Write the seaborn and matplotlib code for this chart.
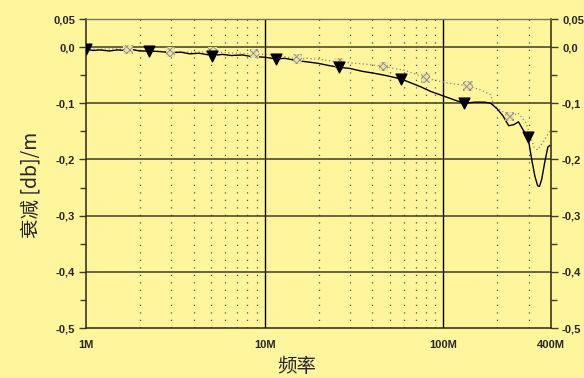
import numpy as np
import pandas as pd
import seaborn as sns
import matplotlib.pyplot as plt
from matplotlib.ticker import FixedLocator, NullFormatter

# solid curve (MHz, dB/m)
solid_f = [1.0, 1.1, 1.2, 1.35, 1.5, 1.65, 1.8, 2.0, 2.25, 2.6, 3.0, 3.4, 3.8, 4.3,
           5.1, 5.8, 6.5, 7.5, 8.5, 10, 11.5, 13, 15, 17, 20, 23, 26, 30, 35, 40,
           45, 50, 58, 65, 75, 85, 100, 115, 131, 150, 170, 184, 200, 215, 232,
           248, 263, 280, 297, 312, 325, 337, 345, 355, 369, 384, 394]
solid_v = [-0.004, -0.006, -0.005, -0.007, -0.005, -0.006, -0.004, -0.007, -0.007,
           -0.008, -0.010, -0.009, -0.012, -0.011, -0.015, -0.013, -0.015, -0.014,
           -0.017, -0.018, -0.021, -0.020, -0.024, -0.026, -0.029, -0.033, -0.036,
           -0.038, -0.043, -0.046, -0.049, -0.052, -0.057, -0.063, -0.071, -0.079,
           -0.087, -0.094, -0.100, -0.098, -0.098, -0.100, -0.110, -0.122, -0.140,
           -0.138, -0.133, -0.148, -0.160, -0.200, -0.230, -0.247, -0.248, -0.235,
           -0.205, -0.178, -0.175]
tri_f = [1.0, 2.25, 5.1, 11.5, 26, 58, 131, 297]
tri_v = [-0.004, -0.007, -0.015, -0.021, -0.036, -0.057, -0.100, -0.160]

# dotted curve
dot_f = [1.0, 1.2, 1.45, 1.72, 2.0, 2.4, 2.96, 3.5, 4.2, 5.09, 6.0, 7.2, 8.76,
         10.3, 12.3, 15.2, 17.5, 20.5, 26.2, 30, 36, 46.1, 51, 60, 70, 79.5, 92,
         107, 137, 161, 184, 191, 235, 245, 261, 290, 321, 337, 373, 398]
dot_v = [-0.003, -0.004, -0.003, -0.004, -0.006, -0.007, -0.009, -0.009, -0.009,
         -0.008, -0.010, -0.011, -0.012, -0.013, -0.016, -0.021, -0.020, -0.022,
         -0.027, -0.028, -0.030, -0.034, -0.037, -0.041, -0.048, -0.055, -0.060,
         -0.064, -0.069, -0.076, -0.085, -0.103, -0.124, -0.122, -0.117, -0.135,
         -0.178, -0.183, -0.162, -0.147]
hat_f = [1.72, 2.96, 5.09, 8.76, 15.2, 26.2, 46.1, 79.5, 137, 235]
hat_v = [-0.004, -0.009, -0.008, -0.012, -0.021, -0.027, -0.034, -0.055, -0.069, -0.124]

xtick_vals = [1, 10, 100, 400]
xtick_labels = ['1M', '10M', '100M', '400M']
ytick_vals = [0.05, 0.0, -0.1, -0.2, -0.3, -0.4, -0.5]
ytick_labels = ['0,05', '0,0', '-0,1', '-0,2', '-0,3', '-0,4', '-0,5']

bg = '#fff59c'
sns.set_theme(style='white')
plt.rcParams['font.family'] = ['Liberation Sans', 'DejaVu Sans']
plt.rcParams['hatch.linewidth'] = 0.6

fig = plt.figure(figsize=(5.84, 3.78), dpi=100, facecolor=bg)
ax = fig.add_axes([86 / 584, 50 / 378, 465 / 584, 309 / 378])
ax.set_facecolor(bg)
ax.set_xscale('log')
ax.set_xlim(1, 400)
ax.set_ylim(-0.5, 0.05)

# grid
for f in [2, 3, 4, 5, 6, 7, 8, 9, 20, 30, 40, 50, 60, 70, 80, 90, 200, 300]:
    ax.axvline(f, color='#555040', lw=0.9, ls=(0, (1, 5)), zorder=1)
for f in [10, 100]:
    ax.axvline(f, color='black', lw=1.0, zorder=1)
for v in [0.0, -0.1, -0.2, -0.3, -0.4]:
    ax.axhline(v, color='#3e3b28', lw=1.1, zorder=1)

df_s = pd.DataFrame({'f': solid_f, 'v': solid_v})
df_d = pd.DataFrame({'f': dot_f, 'v': dot_v})
sns.lineplot(data=df_d, x='f', y='v', ax=ax, color='#8a856f', lw=0.9,
             linestyle=(0, (1, 2)), zorder=3)
sns.lineplot(data=df_s, x='f', y='v', ax=ax, color='black', lw=1.0, zorder=4)
ax.scatter(hat_f, hat_v, marker='s', s=45, facecolor='#ece4a8', edgecolor='#8c887a',
           hatch='xxxxx', linewidth=0, zorder=5)
ax.scatter(tri_f, tri_v, marker='v', s=60, color='black', zorder=6)

ax.set_xlabel('')
ax.set_ylabel('')
ax.set_xticks(xtick_vals)
ax.xaxis.set_minor_locator(FixedLocator([]))
ax.xaxis.set_minor_formatter(NullFormatter())
ax.set_xticklabels(xtick_labels, fontsize=8, fontweight='bold')
ax.tick_params(axis='x', length=0, pad=9)

ax.set_yticks(ytick_vals)
ax.set_yticklabels(ytick_labels, fontsize=8, fontweight='bold')
ax.set_yticks([-0.05, -0.15, -0.25, -0.35, -0.45], minor=True)
ax.tick_params(axis='y', which='major', direction='out', length=5, width=1,
               color='#3e3b28', left=True, right=True, labelleft=True,
               labelright=True, pad=3)
ax.tick_params(axis='y', which='minor', direction='out', length=4, width=1,
               color='#3e3b28', left=True, right=True)

for side in ['left', 'right', 'bottom']:
    ax.spines[side].set_color('#2a2818')
    ax.spines[side].set_linewidth(1.1)
ax.spines['top'].set_color('#77725a')
ax.spines['top'].set_linewidth(1.0)

cjk = ['Noto Sans CJK SC', 'DejaVu Sans']
fig.text(297 / 584, 1 - 366 / 378, '频率', family=cjk, fontsize=14,
         ha='center', va='center')
fig.text(31 / 584, 1 - 185 / 378, '衰减 [db]/m', family=cjk, fontsize=14,
         rotation=90, ha='center', va='center')

plt.savefig('out.png', dpi=100, facecolor=bg)
